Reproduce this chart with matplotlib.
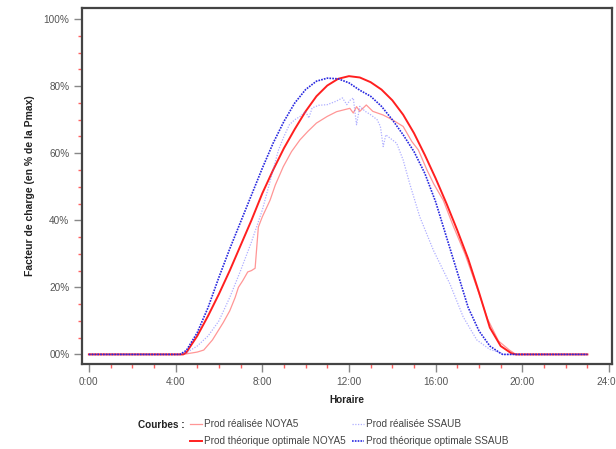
import matplotlib
matplotlib.use('Agg')
import matplotlib.pyplot as plt
from matplotlib.ticker import MultipleLocator

plt.rcParams['font.family'] = ['Liberation Sans', 'DejaVu Sans']

# Prod théorique optimale NOYA5 (hours, % of Pmax)
theo_noya_h = [0, 4.0, 4.35, 4.5, 5.0, 5.5, 6.0, 6.5, 7.0, 7.5, 8.0, 8.5, 9.0, 9.5, 10.0,
               10.5, 11.0, 11.5, 12.0, 12.5, 13.0, 13.5, 14.0, 14.5, 15.0, 15.5, 16.0,
               16.5, 17.0, 17.5, 18.0, 18.5, 19.0, 19.5, 19.7, 23.0]
theo_noya = [0, 0, 0, 0.6, 5.5, 11.5, 18, 25, 32.5, 40, 48, 55, 61.5, 67.2, 72.5,
             77, 80.2, 82.2, 83, 82.6, 81.2, 79, 75.8, 71.5, 66, 59.5, 52.5,
             45, 37, 28.5, 18.5, 8, 2.5, 0.3, 0, 0]

# Prod théorique optimale SSAUB
theo_ssaub_h = [0, 4.0, 4.2, 4.5, 5.0, 5.5, 6.0, 6.5, 7.0, 7.5, 8.0, 8.5, 9.0, 9.5, 10.0,
                10.5, 11.0, 11.5, 12.0, 12.5, 13.0, 13.5, 14.0, 14.5, 15.0, 15.5, 16.0,
                16.5, 17.0, 17.5, 18.0, 18.5, 19.0, 19.1, 23.0]
theo_ssaub = [0, 0, 0, 1.2, 6.5, 14, 23, 31.5, 39.5, 47.5, 55.5, 63, 69.5, 75, 79,
              81.5, 82.4, 82.2, 81, 78.8, 77, 74, 70, 65.5, 60.5, 54, 45.5,
              35, 24.5, 14, 7, 2.5, 0.3, 0, 0]

# Prod réalisée NOYA5
real_noya_h = [0, 4.35, 5.0, 5.3, 5.7, 6.2, 6.5, 6.75, 6.9, 7.1, 7.33, 7.5, 7.67,
               7.82, 8.0, 8.36, 8.6, 8.97, 9.35, 9.74, 10.1, 10.5, 11.0, 11.43, 12.04,
               12.2, 12.35, 12.5, 12.8, 13.1, 13.58, 14.0, 14.5, 14.9, 15.2, 15.6,
               15.9, 16.35, 16.8, 17.35, 17.9, 18.4, 18.9, 19.4, 19.7, 23.0]
real_noya = [0, 0, 0.7, 1.3, 4.3, 9.5, 13, 17, 20, 22, 24.6, 25, 25.7,
             38, 41, 46, 50.5, 56, 60.5, 64, 66.5, 69, 71, 72.4, 73.4,
             72, 73.9, 72.5, 74.4, 72.5, 71.4, 70, 68, 63.5, 61, 55,
             51, 46, 38.5, 30, 20, 10.5, 4, 1.3, 0, 0]

# Prod réalisée SSAUB
real_ssaub_h = [0, 4.25, 4.5, 5.0, 5.5, 6.0, 6.5, 7.0, 7.5, 8.0, 8.5, 8.75, 9.0, 9.25,
                9.5, 9.75, 10.0, 10.15, 10.3, 10.6, 11.0, 11.4, 11.7, 11.9, 12.05,
                12.2, 12.35, 12.5, 12.75, 13.0, 13.3, 13.45, 13.58, 13.7, 14.0, 14.2,
                14.5, 14.8, 15.27, 15.9, 16.66, 17.27, 17.9, 18.5, 19.0, 19.1, 23.0]
real_ssaub = [0, 0, 0.5, 2.5, 5.5, 10, 17, 25, 33.5, 43, 55, 61, 65, 68.5,
              70, 71, 72.5, 70.5, 73.5, 74.3, 74.5, 75.5, 76.5, 74.5, 75.8,
              76.5, 68.5, 74, 72.5, 71.5, 70, 68, 62, 65.5, 64, 63,
              58, 51, 41, 31, 21, 11.2, 4.3, 1.5, 0.5, 0, 0]

x_ticks = [0, 4, 8, 12, 16, 20, 24]
x_labels = ['0:00', '4:00', '8:00', '12:00', '16:00', '20:00', '24:00']
y_ticks = [0, 20, 40, 60, 80, 100]
y_labels = ['00%', '20%', '40%', '60%', '80%', '100%']

fig = plt.figure(figsize=(6.16, 4.49), dpi=100)
ax = fig.add_axes([0.133, 0.189, 0.861, 0.793])

l1, = ax.plot(real_noya_h, real_noya, color='#ff4040', lw=0.9, alpha=0.55,
              label='Prod réalisée NOYA5')
l2, = ax.plot(theo_noya_h, theo_noya, color='#ff1f1f', lw=1.4,
              label='Prod théorique optimale NOYA5')
l3, = ax.plot(real_ssaub_h, real_ssaub, color='#6060ff', lw=0.9, alpha=0.5,
              ls=(0, (1, 1.2)), label='Prod réalisée SSAUB')
l4, = ax.plot(theo_ssaub_h, theo_ssaub, color='#2828e0', lw=1.2,
              ls=(0, (1, 0.7)), label='Prod théorique optimale SSAUB')

ax.set_xlim(-0.32, 24.15)
ax.set_ylim(-2.9, 103.3)
ax.set_xticks(x_ticks, labels=x_labels)
ax.set_yticks(y_ticks, labels=y_labels)
ax.xaxis.set_minor_locator(MultipleLocator(1))
ax.yaxis.set_minor_locator(MultipleLocator(5))
ax.tick_params(which='major', direction='out', length=6, width=1, color='#888888',
               labelsize=7.2, labelcolor='#555555', pad=3)
ax.tick_params(which='minor', direction='out', length=3, width=1, color='#ff6060')

for s in ax.spines.values():
    s.set_color('#444444')
    s.set_linewidth(1.6)

ax.set_xlabel('Horaire', fontsize=7.2, fontweight='bold', color='#222222')
ax.set_ylabel('Facteur de charge (en % de la Pmax)', fontsize=7.5,
              fontweight='bold', color='#222222')
ax.xaxis.set_label_coords(0.5, -0.087)
ax.yaxis.set_label_coords(-0.088, 0.5)

fig.text(0.224, 0.0535, 'Courbes :', fontsize=7.2, fontweight='bold',
         color='#222222', va='center')
fig.legend(handles=[l1, l2, l3, l4], ncol=2, loc='upper left',
           bbox_to_anchor=(0.3084, 0.066), frameon=False, fontsize=7.2,
           handlelength=1.2, handletextpad=0.2, columnspacing=0.6,
           labelspacing=0.7, borderpad=0, borderaxespad=0,
           labelcolor='#444444')

fig.savefig('out.png', dpi=100)
